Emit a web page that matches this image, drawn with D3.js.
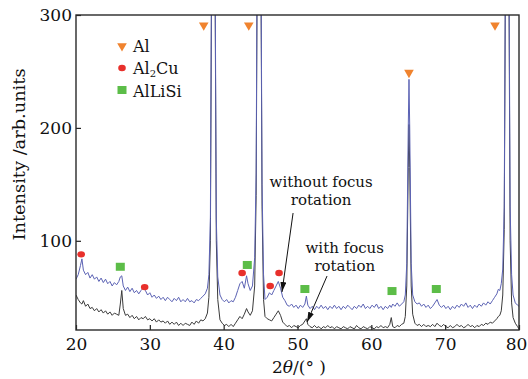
<!DOCTYPE html>
<html>
<head>
<meta charset="utf-8">
<script src="https://cdn.jsdelivr.net/npm/d3@7"></script>
<style>
  body { margin: 0; background: #fff; }
  svg text { font-family: "DejaVu Serif", serif; fill: #111; }
</style>
</head>
<body>
<svg id="chart" width="528" height="379"></svg>
<script>
// 2theta positions (deg) shared by both scans
var twoTheta = [
  20.0,20.3,20.6,20.8,21.0,21.3,21.6,21.9,22.2,22.5,22.8,23.1,23.4,23.7,24.0,24.3,24.6,24.9,25.2,25.5,25.8,26.0,26.2,26.4,26.7,27.0,27.3,27.6,27.9,28.2,28.5,28.8,29.1,29.4,29.7,30.0,
  30.3,30.6,30.9,31.2,31.5,31.8,32.1,32.4,32.7,33.0,33.3,33.6,33.9,34.2,34.5,34.8,35.1,35.4,35.7,36.0,36.3,36.6,36.9,37.2,
  37.5,37.8,38.0,38.2,38.4,38.6,38.8,39.0,39.2,
  39.5,39.8,40.1,40.4,40.7,41.0,41.3,41.6,41.9,42.2,42.5,42.8,43.1,43.3,43.6,43.9,
  44.2,44.4,44.6,44.8,45.0,45.2,45.4,
  45.6,45.9,46.2,46.5,46.8,47.1,47.4,47.7,48.0,48.3,48.6,48.9,49.2,49.5,49.8,50.1,50.4,50.7,51.0,
  51.2,51.4,51.7,52.0,52.3,52.6,52.9,53.2,53.5,53.8,54.1,54.4,54.7,55.0,55.3,55.6,55.9,56.2,56.5,56.8,
  57.1,57.4,57.7,58.0,58.3,58.6,58.9,59.2,59.5,59.8,60.1,60.4,60.7,61.0,61.3,61.6,61.9,62.2,62.5,62.7,
  62.9,63.2,63.5,63.8,64.1,64.4,
  64.6,64.8,65.0,65.1,65.2,65.4,65.6,
  65.9,66.2,66.5,66.8,67.1,67.4,67.7,68.0,68.3,68.6,68.9,69.2,69.5,69.8,70.1,70.4,70.7,71.0,71.3,71.6,
  71.9,72.2,72.5,72.8,73.1,73.4,73.7,74.0,74.3,74.6,74.9,75.2,75.5,75.8,76.1,76.4,76.7,
  77.0,77.2,77.4,77.6,77.8,78.0,78.2,78.4,78.6,78.8,79.0,79.2,79.5,79.8,80.0
];
// blue scan: without focus rotation
var withoutFocus = [
  66,70,78,84,74,70,72,67,70,66,68,64,67,63,66,62,64,60,63,61,64,68,69,60,56,59,55,58,54,56,53,56,58,56,52,54,
  50,52,49,51,48,50,47,50,48,46,49,47,50,46,48,46,49,46,47,45,48,47,49,51,
  53,58,70,120,400,700,400,120,68,
  52,48,46,48,45,47,46,50,56,62,64,58,69,62,56,60,
  85,160,450,700,420,150,70,
  48,50,54,52,56,60,64,58,50,47,43,42,44,41,43,40,43,41,44,
  51,43,40,42,39,42,40,43,40,42,39,42,40,43,40,42,39,42,40,43,
  41,39,42,40,43,41,44,40,42,40,43,41,44,40,42,39,42,40,43,41,
  44,42,45,42,44,46,
  52,80,200,243,200,80,52,
  46,44,45,42,44,41,43,40,42,45,48,43,41,43,40,42,39,42,40,43,
  41,44,42,45,41,43,40,43,41,44,42,45,43,46,44,47,50,
  53,57,56,62,75,130,400,700,400,130,70,52,45,43,42
];
// black scan: with focus rotation
var withFocus = [
  52,48,45,44,47,42,44,40,41,38,40,37,39,36,38,35,37,34,36,35,34,44,56,40,34,35,32,34,31,33,30,32,31,33,30,31,
  29,31,28,30,28,29,27,29,26,28,26,28,25,27,25,27,26,25,28,26,29,27,30,29,
  31,36,50,100,380,680,380,100,48,
  30,27,25,26,24,26,24,27,30,33,31,35,40,37,34,38,
  60,140,430,680,400,130,48,
  33,31,30,29,32,35,38,34,28,26,24,25,23,25,24,23,25,26,29,
  31,26,24,23,25,23,24,22,24,23,25,23,24,22,24,23,22,24,23,22,
  24,23,22,25,23,22,24,23,22,24,23,22,24,23,25,23,24,23,26,32,
  24,23,25,24,26,27,
  33,60,165,203,165,60,35,
  27,25,26,24,26,24,25,24,26,24,27,25,24,26,24,23,25,23,24,26,
  24,25,23,24,26,24,25,23,25,24,26,25,27,26,28,27,29,
  31,33,34,38,52,110,380,680,380,100,45,32,27,24,22
];

// phase markers
var alX = [37.3, 43.4, 65.1, 76.75];
var alY = [291, 291, 249, 291];
var al2cuX = [20.7, 29.3, 42.5, 46.3, 47.5];
var al2cuY = [88, 59, 71.5, 60, 71.5];
var alLiSiX = [26.0, 43.2, 51.0, 62.8, 68.8];
var alLiSiY = [77, 78.6, 57.3, 55.5, 57.3];

var xTicks = [20, 30, 40, 50, 60, 70, 80];
var yTicks = [100, 200, 300];

var width = 528, height = 379;
var margin = {top: 15, right: 9, bottom: 49, left: 76};

var colors = {
    blue: "#5b62b4",
    black: "#3a3a3a",
    al: "#f0832e",
    al2cu: "#e8302b",
    alLiSi: "#5cbd48"
};

var svg = d3.select("#chart");

var x = d3.scaleLinear().domain([20, 80]).range([margin.left, width - margin.right]);
var y = d3.scaleLinear().domain([21, 300]).range([height - margin.bottom, margin.top]);

var defs = svg.append("defs");
defs.append("clipPath")
    .attr("id", "plotClip")
  .append("rect")
    .attr("x", x(20))
    .attr("y", y(300))
    .attr("width", x(80) - x(20))
    .attr("height", y(21) - y(300));

defs.append("marker")
    .attr("id", "arrowHead")
    .attr("viewBox", "0 0 10 6")
    .attr("refX", 10)
    .attr("refY", 3)
    .attr("markerWidth", 10)
    .attr("markerHeight", 6)
    .attr("markerUnits", "userSpaceOnUse")
    .attr("orient", "auto")
  .append("path")
    .attr("d", "M0,0L10,3L0,6Z")
    .attr("fill", "#111");

var rows = twoTheta.map(function(t, i) {
    return {t: t, a: withoutFocus[i], b: withFocus[i]};
});

var plot = svg.append("g").attr("clip-path", "url(#plotClip)");

var lineB = d3.line().x(function(d) { return x(d.t); }).y(function(d) { return y(d.b); });
var lineA = d3.line().x(function(d) { return x(d.t); }).y(function(d) { return y(d.a); });

plot.append("path")
    .datum(rows)
    .attr("d", lineB)
    .attr("fill", "none")
    .attr("stroke", colors.black)
    .attr("stroke-width", 1);

plot.append("path")
    .datum(rows)
    .attr("d", lineA)
    .attr("fill", "none")
    .attr("stroke", colors.blue)
    .attr("stroke-width", 1);

// axes
var xAxis = d3.axisBottom(x).tickValues(xTicks).tickSize(-5).tickPadding(8);
var yAxis = d3.axisLeft(y).tickValues(yTicks).tickSize(-5).tickPadding(4);

var gx = svg.append("g")
    .attr("transform", "translate(0," + y(21) + ")")
    .call(xAxis);
var gy = svg.append("g")
    .attr("transform", "translate(" + x(20) + ",0)")
    .call(yAxis);

[gx, gy].forEach(function(g) {
    g.select(".domain").remove();
    g.selectAll(".tick line").attr("stroke", "#222").attr("stroke-width", 1.2);
    g.selectAll(".tick text")
        .attr("fill", "#111")
        .style("font-family", "'DejaVu Serif', serif")
        .style("font-size", "17px");
});
// keep the last x label inside the page
gx.selectAll(".tick text").filter(function(d) { return d === 80; }).attr("dx", -3);

svg.append("rect")
    .attr("x", x(20))
    .attr("y", y(300))
    .attr("width", x(80) - x(20))
    .attr("height", y(21) - y(300))
    .attr("fill", "none")
    .attr("stroke", "#2a2a2a")
    .attr("stroke-width", 1.4);

// phase markers
var tri = d3.symbol().type(d3.symbolTriangle).size(40);
svg.append("g").selectAll("path")
    .data(alX)
    .join("path")
    .attr("d", tri)
    .attr("transform", function(d, i) { return "translate(" + x(d) + "," + y(alY[i]) + ") rotate(180)"; })
    .attr("fill", colors.al);

svg.append("g").selectAll("ellipse")
    .data(al2cuX)
    .join("ellipse")
    .attr("cx", function(d) { return x(d); })
    .attr("cy", function(d, i) { return y(al2cuY[i]); })
    .attr("rx", 3.8)
    .attr("ry", 3.2)
    .attr("fill", colors.al2cu);

svg.append("g").selectAll("rect")
    .data(alLiSiX)
    .join("rect")
    .attr("x", function(d) { return x(d) - 4.5; })
    .attr("y", function(d, i) { return y(alLiSiY[i]) - 4; })
    .attr("width", 9)
    .attr("height", 8)
    .attr("fill", colors.alLiSi);

// legend
var legend = svg.append("g").attr("transform", "translate(122,46)");
legend.append("path").attr("d", tri).attr("transform", "rotate(180)").attr("fill", colors.al);
legend.append("text").attr("x", 11).attr("y", 6).style("font-size", "16px").text("Al");
legend.append("ellipse").attr("cx", 0).attr("cy", 22).attr("rx", 3.8).attr("ry", 3.2).attr("fill", colors.al2cu);
var t2 = legend.append("text").attr("x", 11).attr("y", 28).style("font-size", "16px");
t2.append("tspan").text("Al");
t2.append("tspan").attr("dy", 3).style("font-size", "10px").text("2");
t2.append("tspan").attr("dy", -3).text("Cu");
legend.append("rect").attr("x", -4.5).attr("y", 40).attr("width", 9).attr("height", 8).attr("fill", colors.alLiSi);
legend.append("text").attr("x", 11).attr("y", 51).style("font-size", "16px").text("AlLiSi");

// annotations
function note(tx, lines, baseY, lineGap) {
    lines.forEach(function(s, i) {
        svg.append("text")
            .attr("x", x(tx))
            .attr("y", y(baseY) + i * lineGap)
            .attr("text-anchor", "middle")
            .style("font-size", "15px")
            .text(s);
    });
}
note(53.2, ["without focus", "rotation"], 147.7, 18);
note(56.4, ["with focus", "rotation"], 89.2, 18);

svg.append("line")
    .attr("x1", x(49.4)).attr("y1", y(124.6))
    .attr("x2", x(47.9)).attr("y2", y(54.7))
    .attr("stroke", "#111").attr("stroke-width", 1)
    .attr("marker-end", "url(#arrowHead)");
svg.append("line")
    .attr("x1", x(54.0)).attr("y1", y(68.8))
    .attr("x2", x(51.3)).attr("y2", y(28.1))
    .attr("stroke", "#111").attr("stroke-width", 1)
    .attr("marker-end", "url(#arrowHead)");

// axis titles
var xt = svg.append("text")
    .attr("x", 299)
    .attr("y", 373)
    .attr("text-anchor", "middle")
    .style("font-size", "17px");
xt.append("tspan").text("2");
xt.append("tspan").style("font-style", "italic").text("θ");
xt.append("tspan").text("/(° )");

svg.append("text")
    .attr("transform", "translate(25," + ((y(300) + y(21)) / 2 - 18) + ") rotate(-90)")
    .attr("text-anchor", "middle")
    .attr("textLength", 172)
    .attr("lengthAdjust", "spacingAndGlyphs")
    .style("font-size", "17px")
    .text("Intensity /arb.units");
</script>
</body>
</html>
